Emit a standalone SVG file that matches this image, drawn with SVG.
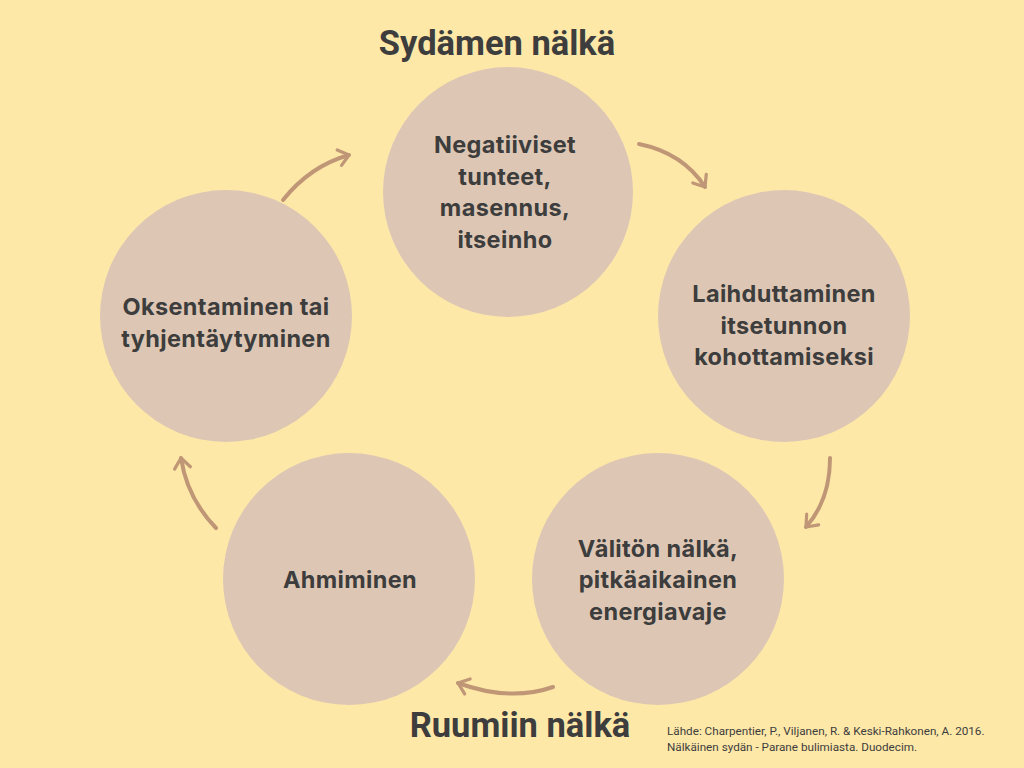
<svg xmlns="http://www.w3.org/2000/svg" width="1024" height="768" viewBox="0 0 1024 768">
<style>
.c{fill:#DDC7B4}
.t{font-family:Inter,Roboto,"Liberation Sans",sans-serif;font-weight:bold;font-size:23.5px;letter-spacing:0.35px;fill:#3D3D3D;text-anchor:middle}
.h{font-family:Roboto,"Liberation Sans",sans-serif;font-weight:bold;font-size:34.5px;fill:#3D3D3D;text-anchor:middle}
.s{font-family:Roboto,"Liberation Sans",sans-serif;font-size:11.7px;fill:#3D3D3D}
.a{fill:none;stroke:#BF9676;stroke-width:4;stroke-linecap:round;marker-end:url(#ah)}
</style>
<defs>
<marker id="ah" viewBox="0 0 10 10" refX="7" refY="5" markerWidth="5" markerHeight="5" orient="auto" markerUnits="strokeWidth">
<path d="M2,1 L7,5 L2,9" fill="none" stroke="#BF9676" stroke-width="1.6" stroke-linecap="round" stroke-linejoin="round"/>
</marker>
</defs>
<rect width="1024" height="768" fill="#FEE8A8"/>
<text class="h" x="497" y="55">Sydämen nälkä</text>
<text class="h" x="520" y="737">Ruumiin nälkä</text>
<g id="n1"><circle class="c" cx="508" cy="192" r="125"/>
<text class="t" x="505" y="153">Negatiiviset</text><text class="t" x="505" y="185">tunteet,</text><text class="t" x="505" y="216">masennus,</text><text class="t" x="505" y="248">itseinho</text></g>
<g id="n2"><circle class="c" cx="784" cy="316" r="126"/>
<text class="t" x="784" y="302">Laihduttaminen</text><text class="t" x="784" y="334">itsetunnon</text><text class="t" x="784" y="365">kohottamiseksi</text></g>
<g id="n3"><circle class="c" cx="658" cy="579" r="126"/>
<text class="t" x="658" y="557">Välitön nälkä,</text><text class="t" x="658" y="588">pitkäaikainen</text><text class="t" x="658" y="620">energiavaje</text></g>
<g id="n4"><circle class="c" cx="349" cy="579" r="126"/>
<text class="t" x="350" y="588">Ahmiminen</text></g>
<g id="n5"><circle class="c" cx="226" cy="316" r="126"/>
<text class="t" x="226" y="315">Oksentaminen tai</text><text class="t" x="226" y="347">tyhjentäytyminen</text></g>
<g id="connectors">
<path class="a" d="M283,200 Q310,166 349,155"/>
<path class="a" d="M639,144 Q683,153 705,187"/>
<path class="a" d="M830,458 Q830,500 806,527"/>
<path class="a" d="M553,687 Q510,702 458,683"/>
<path class="a" d="M216,528 Q187,498 181,458"/>
</g>
<text class="s" x="667" y="735">Lähde: Charpentier, P., Viljanen, R. &amp; Keski-Rahkonen, A. 2016.</text>
<text class="s" x="667" y="751">Nälkäinen sydän - Parane bulimiasta. Duodecim.</text>
</svg>
